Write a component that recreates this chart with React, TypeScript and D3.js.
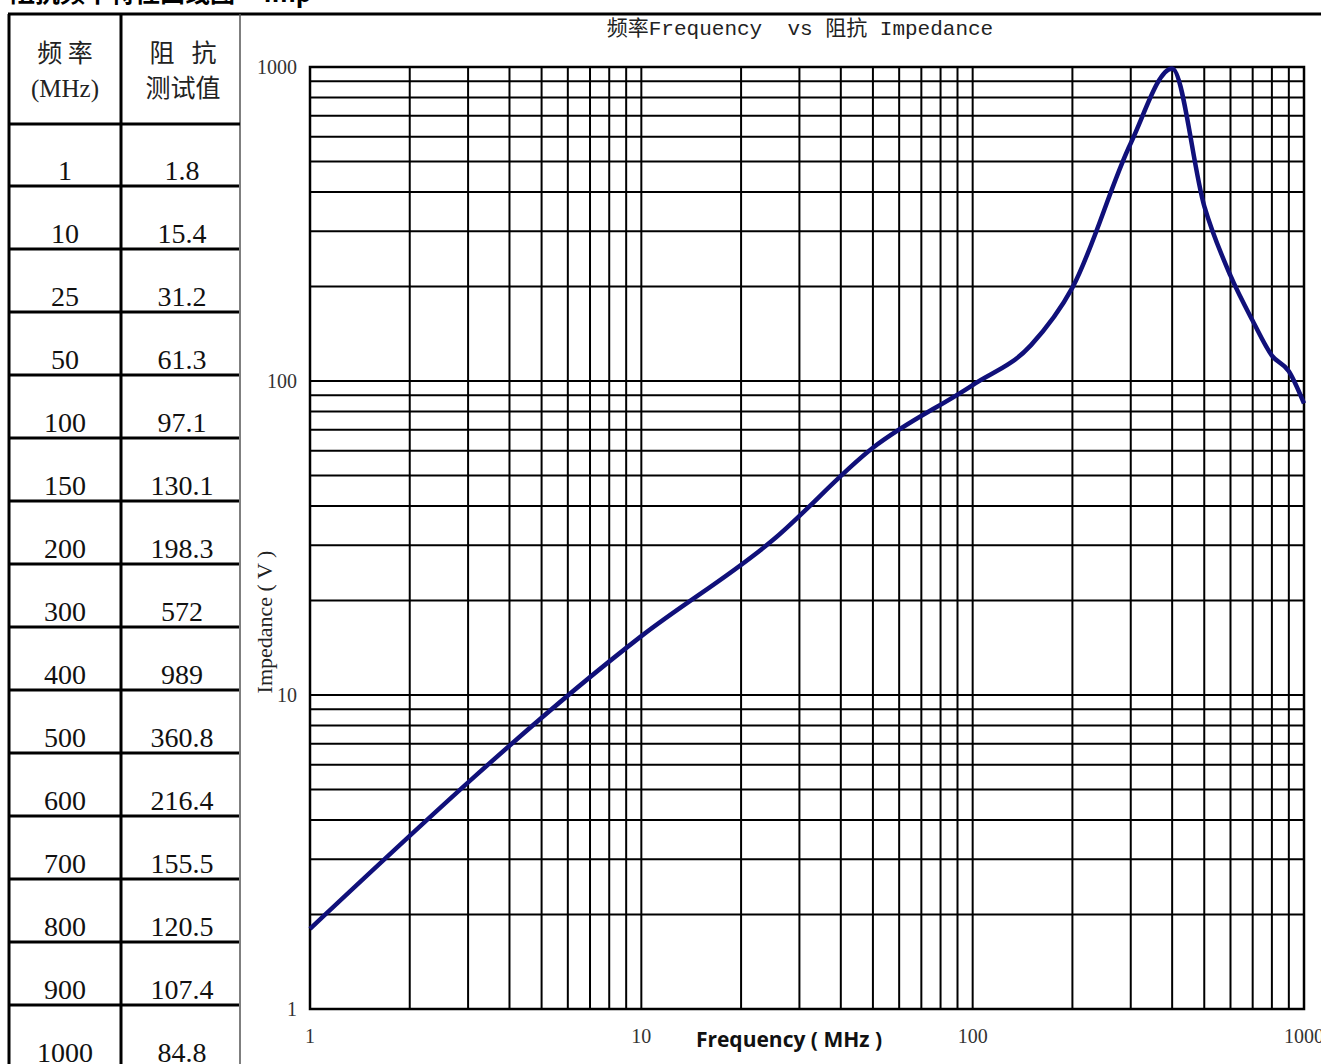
import React from "react";
import * as d3 from "d3";

// measured values, 频率 (MHz) vs 阻抗 测试值
const frequencies = [1, 10, 25, 50, 100, 150, 200, 300, 400, 500, 600, 700, 800, 900, 1000];
const impedances = [1.8, 15.4, 31.2, 61.3, 97.1, 130.1, 198.3, 572, 989, 360.8, 216.4, 155.5, 120.5, 107.4, 84.8];
const xTickValues = [1, 10, 100, 1000];
const yTickValues = [1, 10, 100, 1000];

const W = 1321;
const H = 1064;
const plot = { left: 310, right: 1304, top: 67, bottom: 1009 };

// grid values: 1..9 in every decade
const decadeGrid = (lo: number, hi: number) => {
  const out: number[] = [];
  for (let d = lo; d < hi; d *= 10) for (let m = 1; m < 10; m++) out.push(m * d);
  out.push(hi);
  return out;
};

const App: React.FC = () => {
  const x = d3.scaleLog().domain([1, 1000]).range([plot.left, plot.right]);
  const y = d3.scaleLog().domain([1, 1000]).range([plot.bottom, plot.top]);

  const pts = frequencies.map((f, i) => [f, impedances[i]] as [number, number]);
  const line = d3
    .line<[number, number]>()
    .x((d) => x(d[0]))
    .y((d) => y(d[1]))
    .curve(d3.curveMonotoneX);

  const xGrid = decadeGrid(1, 1000);
  const yGrid = decadeGrid(1, 1000);

  // table rows
  const tableLeft = 8;
  const colSplit = 121;
  const tableRight = 240;
  const headerBottom = 124;
  const rowH = 63;

  const serif = "'Liberation Serif', 'DejaVu Serif', serif";
  const cjk = "'Noto Sans CJK SC', sans-serif";

  return (
    <svg
      width={W}
      height={H}
      style={{ position: "absolute", left: 0, top: 0, background: "#fff" }}
    >
      {/* cut-off heading at the very top */}
      <text
        x={10}
        y={2}
        fontFamily={cjk}
        fontWeight="bold"
        fontSize={25}
        fill="#000"
        style={{ whiteSpace: "pre" }}
      >
        {"阻抗频率特性曲线图     Imp"}
      </text>
      <line x1={tableLeft} x2={W} y1={14} y2={14} stroke="#000" strokeWidth={3} />

      {/* table */}
      <line x1={tableLeft + 1} x2={tableLeft + 1} y1={14} y2={H} stroke="#000" strokeWidth={3} />
      <line x1={colSplit} x2={colSplit} y1={14} y2={H} stroke="#000" strokeWidth={3} />
      <line x1={tableRight} x2={tableRight} y1={14} y2={H} stroke="#555" strokeWidth={1.5} />
      <line x1={tableLeft} x2={tableRight} y1={headerBottom} y2={headerBottom} stroke="#000" strokeWidth={3} />

      <text x={65} y={62} textAnchor="middle" fontFamily={cjk} fontSize={25} fill="#222" style={{ whiteSpace: "pre" }}>
        {"频 率"}
      </text>
      <text x={65} y={97} textAnchor="middle" fontFamily={serif} fontSize={25} fill="#222">
        (MHz)
      </text>
      <text x={183} y={62} textAnchor="middle" fontFamily={cjk} fontSize={25} fill="#222" style={{ whiteSpace: "pre" }}>
        {"阻   抗"}
      </text>
      <text x={183} y={97} textAnchor="middle" fontFamily={cjk} fontSize={25} fill="#222">
        测试值
      </text>

      {frequencies.map((f, i) => {
        const bottom = headerBottom + rowH * (i + 1) - 1;
        return (
          <g key={f}>
            <line x1={tableLeft} x2={tableRight - 1} y1={bottom} y2={bottom} stroke="#000" strokeWidth={3} />
            <text x={65} y={bottom - 6} textAnchor="middle" fontFamily={serif} fontSize={28} fill="#111">
              {String(f)}
            </text>
            <text x={182} y={bottom - 6} textAnchor="middle" fontFamily={serif} fontSize={28} fill="#111">
              {String(impedances[i])}
            </text>
          </g>
        );
      })}

      {/* title */}
      <text x={800} y={35} textAnchor="middle" fontFamily="'Liberation Mono', monospace" fontSize={21} fill="#222" style={{ whiteSpace: "pre" }}>
        <tspan fontFamily={cjk}>频率</tspan>
        {"Frequency  vs "}
        <tspan fontFamily={cjk}>阻抗</tspan>
        {" Impedance"}
      </text>

      {/* grid */}
      <g stroke="#000" strokeWidth={2}>
        {yGrid.map((v) => (
          <line key={"h" + v} x1={plot.left} x2={plot.right} y1={y(v)} y2={y(v)} />
        ))}
        {xGrid.map((v) => (
          <line key={"v" + v} x1={x(v)} x2={x(v)} y1={plot.top} y2={plot.bottom} />
        ))}
      </g>
      <rect
        x={plot.left}
        y={plot.top}
        width={plot.right - plot.left}
        height={plot.bottom - plot.top}
        fill="none"
        stroke="#000"
        strokeWidth={2.5}
      />

      {/* tick labels */}
      {yTickValues.map((v) => (
        <text key={"yt" + v} x={297} y={y(v) + 7} textAnchor="end" fontFamily={serif} fontSize={20} fill="#333">
          {String(v)}
        </text>
      ))}
      {xTickValues.map((v) => (
        <text key={"xt" + v} x={x(v)} y={1043} textAnchor="middle" fontFamily={serif} fontSize={20} fill="#333">
          {String(v)}
        </text>
      ))}

      {/* axis titles */}
      <text
        transform={`translate(272,${622}) rotate(-90)`}
        textAnchor="middle"
        fontFamily={serif}
        fontSize={22}
        fill="#222"
      >
        Impedance ( V )
      </text>
      <text x={789} y={1047} textAnchor="middle" fontFamily="'Open Sans', sans-serif" fontWeight="bold" fontSize={21} fill="#111">
        Frequency ( MHz )
      </text>

      {/* curve */}
      <path d={line(pts) ?? ""} fill="none" stroke="#10107a" strokeWidth={4.5} strokeLinejoin="round" />
    </svg>
  );
};

export default App;
